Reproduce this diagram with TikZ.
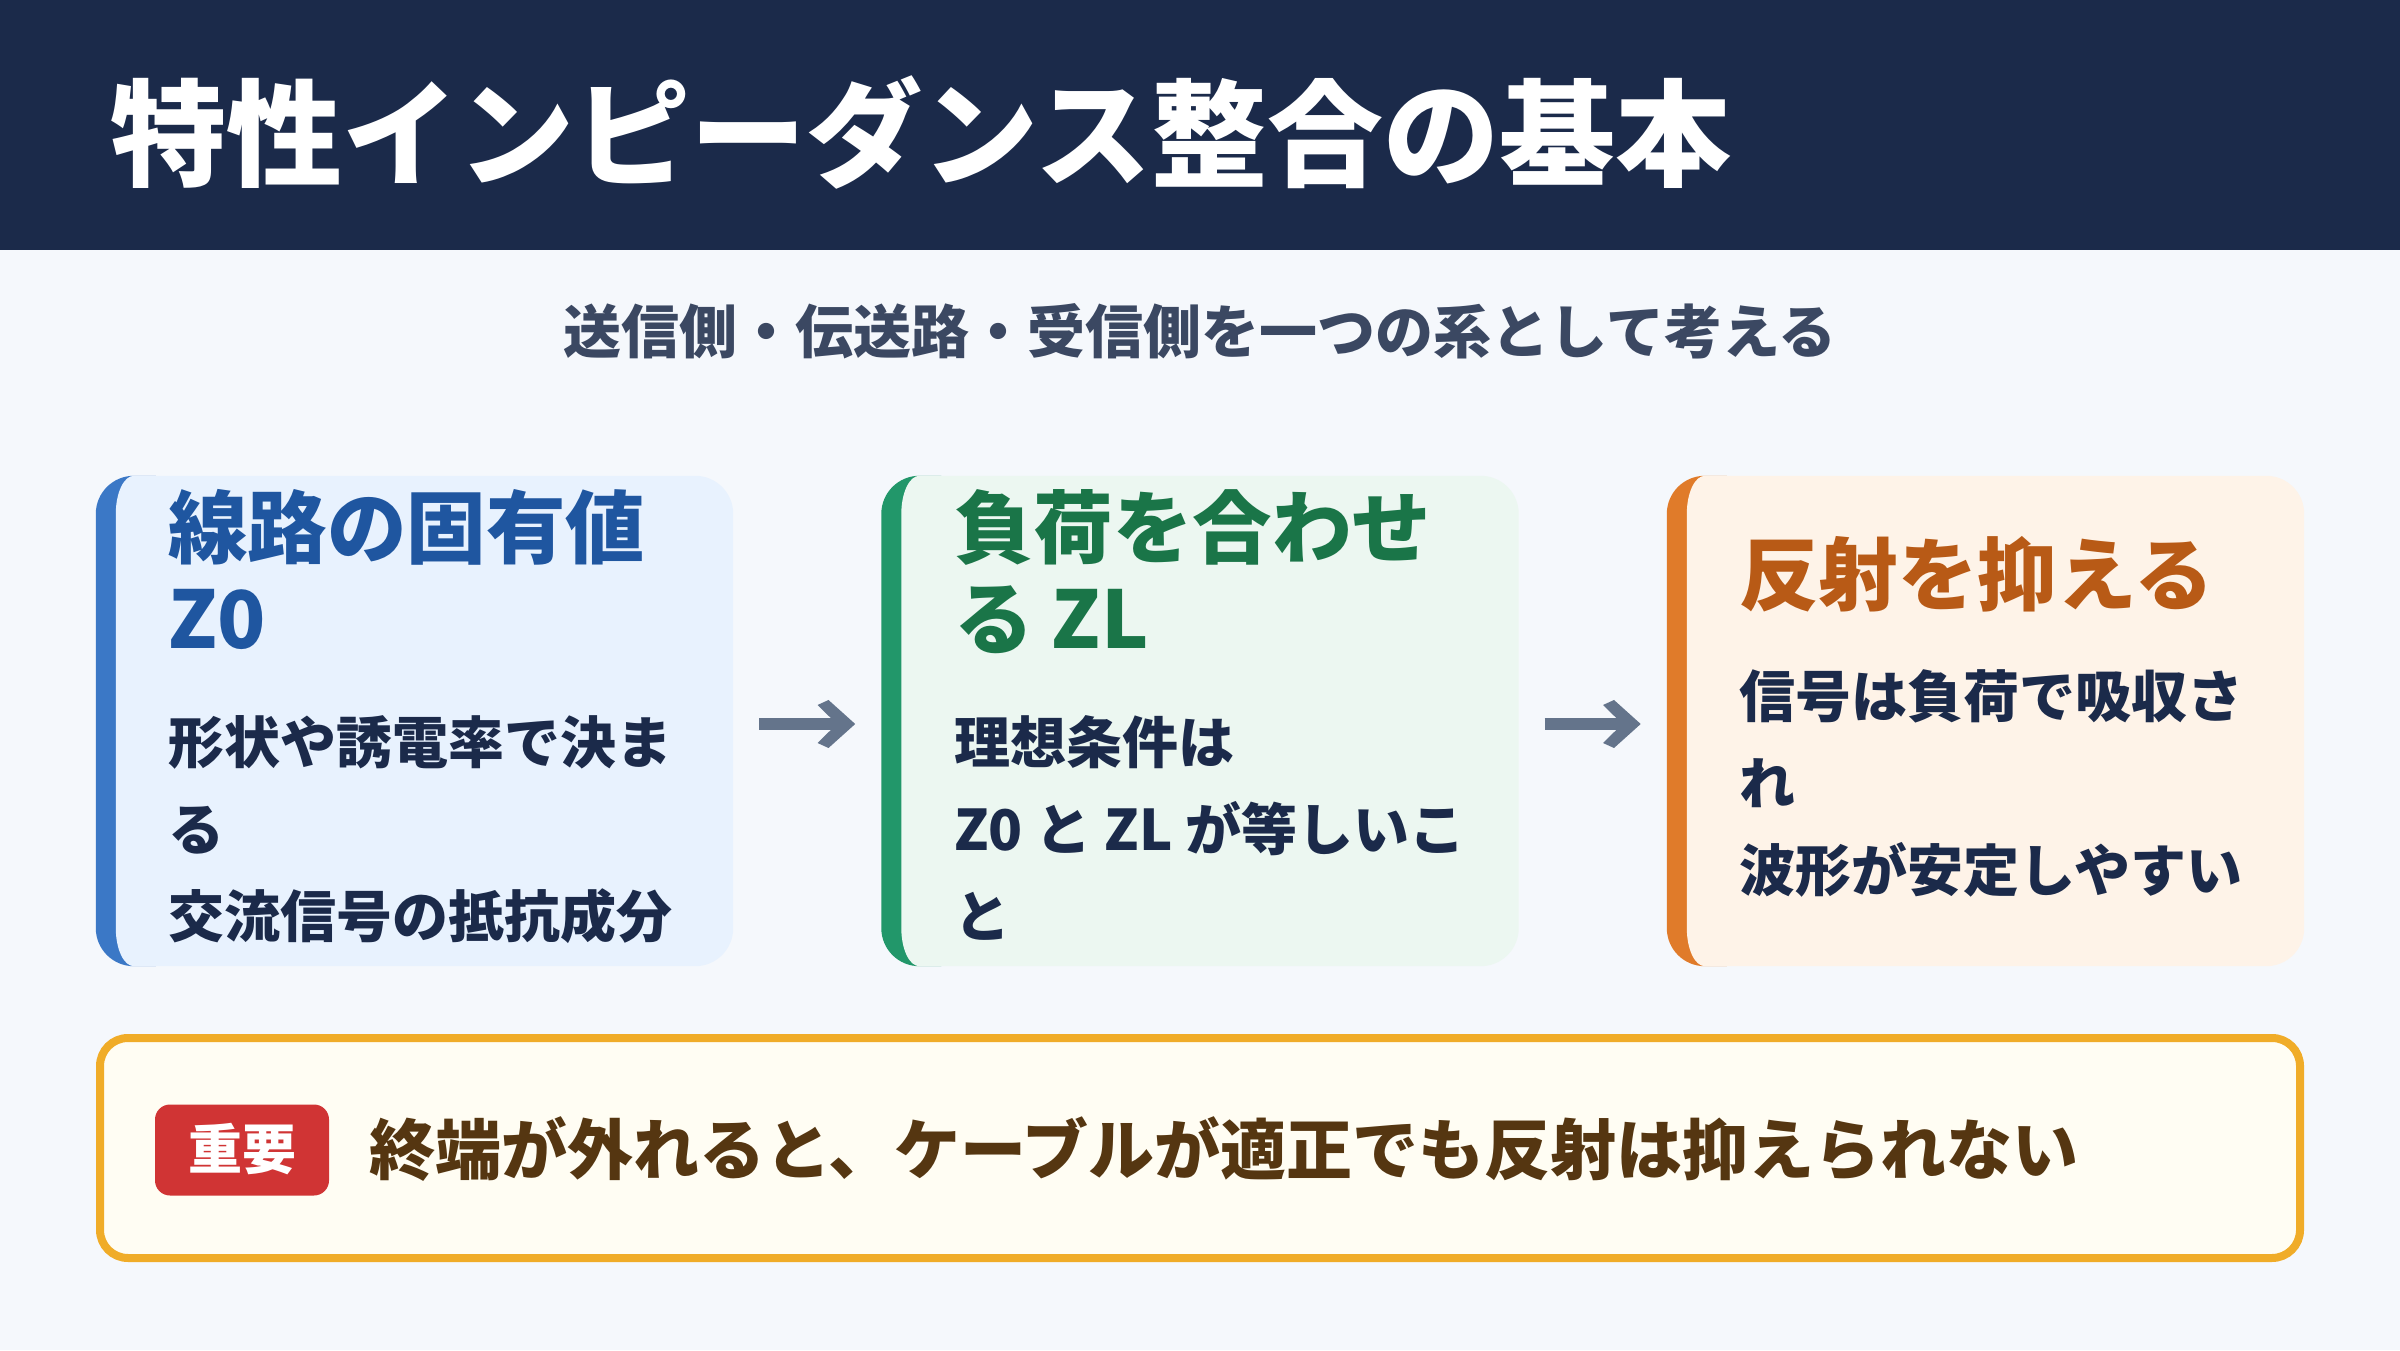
\documentclass[tikz,border=0pt]{standalone}
\usepackage{fontspec}
\setmainfont{Noto Sans CJK JP}
\usetikzlibrary{calc}
\definecolor{pagebg}{HTML}{F5F8FC}
\definecolor{hdr}{HTML}{1B2A4A}
\definecolor{navy}{HTML}{1B2A4A}
\definecolor{subc}{HTML}{3B4862}
\definecolor{bAbg}{HTML}{E8F2FE}
\definecolor{bAac}{HTML}{3B78C6}
\definecolor{bAtx}{HTML}{1F56A0}
\definecolor{bBbg}{HTML}{ECF7F1}
\definecolor{bBac}{HTML}{22976A}
\definecolor{bBtx}{HTML}{1A7548}
\definecolor{bCbg}{HTML}{FEF3E8}
\definecolor{bCac}{HTML}{E07B2A}
\definecolor{bCtx}{HTML}{B85A16}
\definecolor{arrc}{HTML}{64748B}
\definecolor{notebg}{HTML}{FFFDF3}
\definecolor{notebd}{HTML}{F0AC28}
\definecolor{badgec}{HTML}{D03434}
\definecolor{notetx}{HTML}{553611}
\newcommand{\mycard}[3]{% name, accent, bg
  \begin{scope}
    \clip (#1.south west) rectangle ([xshift=60pt]#1.north west);
    \fill[#2, rounded corners=38pt] (#1.south west) rectangle (#1.north east);
  \end{scope}
  \fill[#3] ($(#1.north east)+(-38,0)$) -- ($(#1.north west)+(38,0)$)
    arc[start angle=90,end angle=180,x radius=18,y radius=38]
    -- ($(#1.south west)+(20,38)$)
    arc[start angle=180,end angle=270,x radius=18,y radius=38]
    -- ($(#1.south east)+(-38,0)$)
    arc[start angle=270,end angle=360,radius=38]
    -- ($(#1.north east)+(0,-38)$)
    arc[start angle=0,end angle=90,radius=38] -- cycle;
}
\newcommand{\myhead}[1]{%
  \fill[arrc] (#1) -- ++(-26.7,24) -- ++(-11,-5) -- ++(19.4,-19) -- ++(-19.4,-19) -- ++(11,-5) -- cycle;
}
\begin{document}
\begin{tikzpicture}[x=1pt,y=1pt,
  cardbox/.style={minimum width=637pt, minimum height=490pt, inner sep=0pt, draw=none},
  cardtitle/.style={anchor=base west, inner sep=0pt, font=\fontsize{79.5}{79.5}\selectfont\bfseries},
  cardbody/.style={anchor=base west, inner sep=0pt, text=navy, font=\fontsize{56}{56}\selectfont\bfseries},
  flowline/.style={draw=arrc, line width=12pt},
]
\useasboundingbox (0,0) rectangle (2400,1350);
\fill[pagebg] (0,0) rectangle (2400,1350);
\fill[hdr] (0,1100) rectangle (2400,1350);
\node[anchor=base west, inner sep=0pt, text=white, font=\fontsize{116}{116}\selectfont\bfseries] (title) at (110,1172) {特性インピーダンス整合の基本};
\node[anchor=base, inner sep=0pt, text=subc, font=\fontsize{58}{58}\selectfont\bfseries] (subtitle) at (1200,996) {送信側・伝送路・受信側を一つの系として考える};

% cards
\node[cardbox] (c1) at (414.5,629) {};
\node[cardbox] (c2) at (1200,629) {};
\node[cardbox] (c3) at (1985.5,629) {};
\mycard{c1}{bAac}{bAbg}
\mycard{c2}{bBac}{bBbg}
\mycard{c3}{bCac}{bCbg}

% card 1
\node[cardtitle, text=bAtx] (t1a) at (168,792) {線路の固有値};
\node[cardtitle, text=bAtx] (t1b) at (168,701) {Z0};
\node[cardbody] (b1a) at (168,586) {形状や誘電率で決ま};
\node[cardbody] (b1b) at (168,499) {る};
\node[cardbody] (b1c) at (168,412) {交流信号の抵抗成分};

% card 2
\node[cardtitle, text=bBtx] (t2a) at (954,792) {負荷を合わせ};
\node[cardtitle, text=bBtx] (t2b) at (954,701) {る ZL};
\node[cardbody] (b2a) at (954,586) {理想条件は};
\node[cardbody] (b2b) at (954,499) {Z0 と ZL が等しいこ};
\node[cardbody] (b2c) at (954,412) {と};

% card 3
\node[cardtitle, text=bCtx] (t3a) at (1739,745) {反射を抑える};
\node[cardbody] (b3a) at (1739,632) {信号は負荷で吸収さ};
\node[cardbody] (b3b) at (1739,545) {れ};
\node[cardbody] (b3c) at (1739,458) {波形が安定しやすい};

% arrows
\coordinate (a1s) at ([shift={(26,-3)}]c1.east);
\coordinate (a1e) at ([shift={(122,-3)}]c1.east);
\coordinate (a2s) at ([shift={(26,-3)}]c2.east);
\coordinate (a2e) at ([shift={(122,-3)}]c2.east);
\draw[flowline] (a1s) -- ([xshift=-16pt]a1e);
\myhead{a1e}
\draw[flowline] (a2s) -- ([xshift=-16pt]a2e);
\myhead{a2e}

% note box
\draw[fill=notebg, draw=notebd, line width=8pt, rounded corners=28pt] (100,92) rectangle (2300,312);
\node[fill=badgec, rounded corners=15pt, minimum width=174pt, minimum height=91pt, inner sep=0pt] (badge) at (242,200) {};
\node[anchor=base, inner sep=0pt, text=white, font=\fontsize{54}{54}\selectfont\bfseries] (badgetext) at (242,181) {重要};
\node[anchor=base west, inner sep=0pt, text=notetx, font=\fontsize{66}{66}\selectfont\bfseries] (note) at (369,176) {終端が外れると、ケーブルが適正でも反射は抑えられない};
\end{tikzpicture}
\end{document}
